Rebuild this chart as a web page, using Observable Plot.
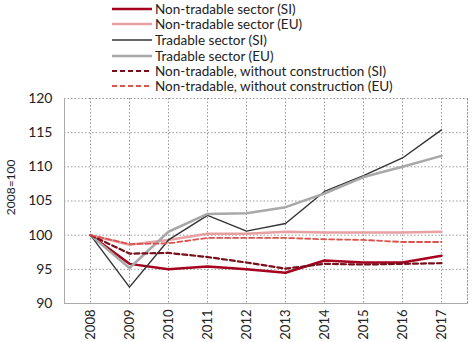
<!DOCTYPE html>
<html><head><meta charset="utf-8">
<script src="https://cdn.jsdelivr.net/npm/d3@7"></script>
<script src="https://cdn.jsdelivr.net/npm/@observablehq/plot@0.6"></script>
<style>
body{margin:0;background:#fff;font-family:Lato,"Open Sans",sans-serif;}
#wrap{width:475px;height:342px;position:relative;overflow:hidden;}
#legend{position:relative;height:88px;}
.row{position:absolute;left:112px;height:16px;display:flex;align-items:center;font-size:13.5px;color:#222;white-space:nowrap;}
.row svg{margin-right:3px;}
</style></head><body>
<div id="wrap"><div id="legend"></div><div id="chart"></div></div>
<script>
const years = [2008,2009,2010,2011,2012,2013,2014,2015,2016,2017];
const nonTradableSI = [100,95.8,95.0,95.4,95.0,94.5,96.3,96.0,96.0,97.0];
const nonTradableEU = [100,98.6,99.3,100.2,100.2,100.5,100.4,100.4,100.4,100.5];
const tradableSI = [100,92.4,99.3,102.9,100.6,101.7,106.4,108.7,111.3,115.4];
const tradableEU = [100,95.2,100.5,103.1,103.2,104.1,106.1,108.5,110.0,111.6];
const nonTradWoConsSI = [100,97.3,97.4,96.8,96.0,95.1,95.8,95.7,95.8,95.9];
const nonTradWoConsEU = [100,98.7,98.8,99.6,99.6,99.6,99.4,99.3,99.0,99.0];
const seriesNames = ["Non-tradable sector (SI)","Non-tradable sector (EU)","Tradable sector (SI)","Tradable sector (EU)","Non-tradable, without construction (SI)","Non-tradable, without construction (EU)"];
const yTicks = [90,95,100,105,110,115,120];
const yAxisTitle = "2008=100";

const styles = [
  {stroke:"#a6001e", width:2.5, dash:null},
  {stroke:"#e8a0a2", width:2.5, dash:null},
  {stroke:"#333333", width:1.4, dash:null},
  {stroke:"#a8a8a8", width:2.5, dash:null},
  {stroke:"#7a0f1c", width:2.2, dash:"5,3"},
  {stroke:"#d9534f", width:1.8, dash:"5,3"}
];
const values = [nonTradableSI,nonTradableEU,tradableSI,tradableEU,nonTradWoConsSI,nonTradWoConsEU];

// legend
const legend = document.getElementById("legend");
const rowY = [1,16,32,48,63,78];
seriesNames.forEach((n,i)=>{
  const s = styles[i];
  const d = document.createElement("div");
  d.className="row"; d.style.top = rowY[i]+"px";
  d.innerHTML = `<svg width="40" height="6"><line x1="0" x2="40" y1="3" y2="3" stroke="${s.stroke}" stroke-width="${s.width}" ${s.dash?`stroke-dasharray="${s.dash}"`:""}/></svg><span>${n}</span>`;
  legend.appendChild(d);
});

const data = [];
values.forEach((arr,i)=>arr.forEach((v,j)=>data.push({series:seriesNames[i], year:years[j], value:v})));

const lines = values.map((arr,i)=>Plot.line(data.filter(d=>d.series===seriesNames[i]),{
  x:"year", y:"value", stroke:styles[i].stroke, strokeWidth:styles[i].width,
  strokeDasharray:styles[i].dash || undefined, curve:"linear"
}));

const chart = Plot.plot({
  width:475, height:254,
  marginLeft:64, marginRight:8, marginTop:10, marginBottom:39,
  style:{fontFamily:"Lato, 'Open Sans', sans-serif", fontSize:"13px", color:"#222", background:"transparent", overflow:"visible"},
  x:{type:"point", domain:years, padding:0.54},
  y:{domain:[90,120]},
  marks:[
    Plot.gridX(years,{stroke:"#999", strokeOpacity:1, strokeWidth:1, strokeDasharray:"1.5,2"}),
    Plot.gridY(yTicks.filter(t=>t>90),{stroke:"#999", strokeOpacity:1, strokeWidth:1, strokeDasharray:"1.5,2"}),
    Plot.frame({anchor:"left", stroke:"#aaa"}),
    Plot.frame({anchor:"bottom", stroke:"#aaa"}),
    Plot.frame({anchor:"right", stroke:"#999", strokeDasharray:"1.5,2"}),
    Plot.axisY(yTicks,{tickSize:0, tickPadding:12, fontSize:14, label:null}),
    Plot.text([yAxisTitle],{y:()=>107, frameAnchor:"left", textAnchor:"middle", lineAnchor:"middle", dx:-53, rotate:-90, fontSize:12}),
    Plot.axisX(years,{tickSize:0, tickPadding:6, tickRotate:-90, fontSize:13, label:null, tickFormat:d=>String(d)}),
    ...lines
  ]
});
document.getElementById("chart").appendChild(chart);
</script>
</body></html>
